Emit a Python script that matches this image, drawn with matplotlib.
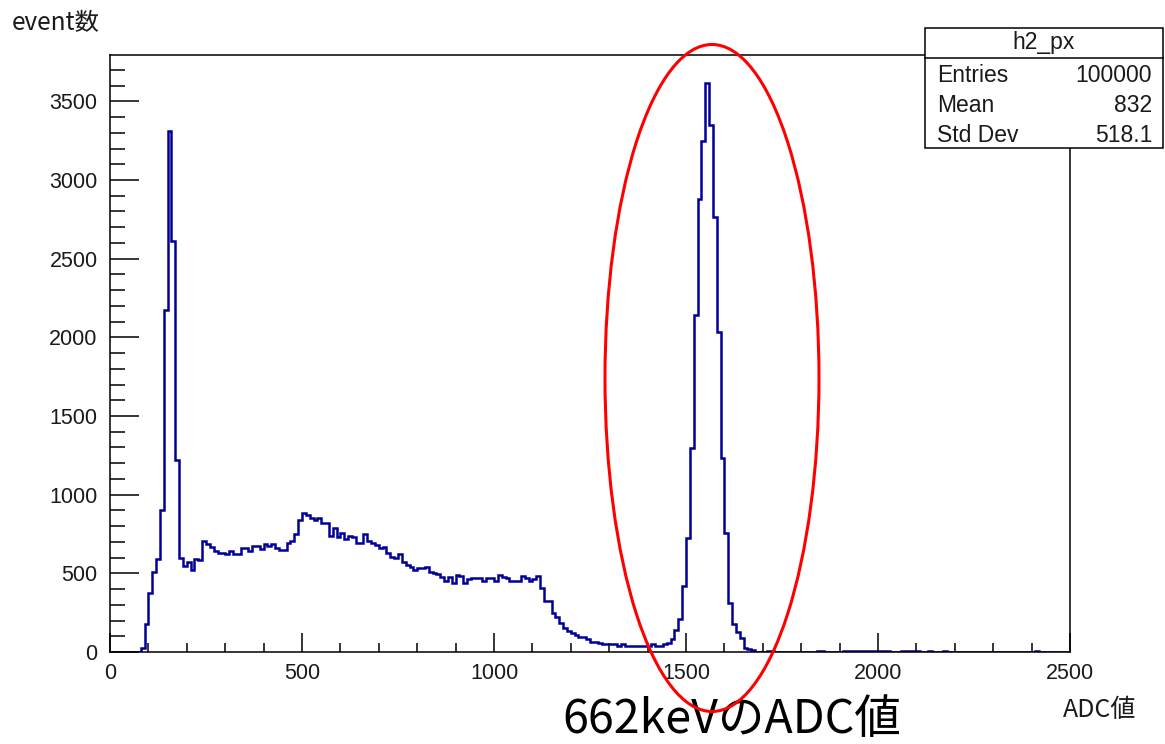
import numpy as np
import matplotlib
matplotlib.use("Agg")
import matplotlib.pyplot as plt
from matplotlib.patches import Ellipse, Rectangle
from matplotlib.lines import Line2D
from matplotlib.ticker import MultipleLocator

# histogram h2_px : 10-wide bins from 0 to 2500
bin_width = 10
x_max = 2500
first_bin = 80
counts_main = [
    25, 177, 377, 507, 594, 900, 2177, 3314, 2613, 1222,      # 80-170
    596, 545, 575, 521, 590, 586, 708, 687, 666, 644,         # 180-270
    632, 632, 621, 644, 623, 623, 660, 660, 640, 674,         # 280-370
    674, 653, 687, 674, 687, 660, 649, 649, 695, 708,         # 380-470
    750, 840, 886, 871, 850, 840, 850, 822, 822, 738,         # 480-570
    787, 729, 759, 717, 738, 729, 696, 696, 751, 708,         # 580-670
    696, 681, 659, 666, 627, 606, 596, 623, 575, 553,         # 680-770
    543, 522, 532, 532, 543, 511, 504, 496, 479, 454,         # 780-870
    479, 441, 490, 485, 441, 462, 469, 469, 469, 454,         # 880-970
    469, 469, 454, 490, 478, 469, 454, 454, 454, 483,         # 980-1070
    469, 454, 462, 483, 405, 326, 326, 250, 224, 182,         # 1080-1170
    151, 136, 118, 105, 98, 93, 80, 66, 66, 55,               # 1180-1270
    51, 51, 51, 51, 38, 51, 38, 38, 38, 38,                   # 1280-1370
    38, 38, 38, 51, 38, 38, 51, 59, 80, 138,                  # 1380-1470
    212, 418, 723, 1295, 2139, 2877, 3249, 3614, 3347, 2762,  # 1480-1570
    2032, 1234, 759, 314, 175, 126, 89, 25, 18, 12,           # 1580-1670
    0, 0, 0, 8, 8,                                            # 1680-1720
]
tail_bins = [1840, 1850, 1910, 1920, 1930, 1940, 1950, 1960, 1970, 1980,
             1990, 2000, 2010, 2020, 2060, 2070, 2080, 2090, 2100, 2130,
             2170, 2410]
tail_counts = [6, 6, 6, 6, 4, 6, 6, 6, 4, 6,
               6, 6, 6, 4, 6, 4, 6, 4, 6, 6,
               6, 6]

stat_names = ["Entries", "Mean", "Std Dev"]
stat_values = ["100000", "832", "518.1"]
hist_name = "h2_px"

edges = np.arange(0, x_max + bin_width, bin_width)
counts = np.zeros(len(edges) - 1)
i0 = first_bin // bin_width
counts[i0:i0 + len(counts_main)] = counts_main
for b, c in zip(tail_bins, tail_counts):
    counts[b // bin_width] = c

fig = plt.figure(figsize=(11.65, 7.44), dpi=100)
ax = fig.add_axes([110 / 1165, 92 / 744, 960 / 1165, 597 / 744])

ax.stairs(counts, edges, color="#000099", lw=1.8, zorder=2)

ax.set_xlim(0, x_max)
ax.set_ylim(0, 1.05 * counts.max())
ax.xaxis.set_major_locator(MultipleLocator(500))
ax.xaxis.set_minor_locator(MultipleLocator(100))
ax.yaxis.set_major_locator(MultipleLocator(500))
ax.yaxis.set_minor_locator(MultipleLocator(100))
ax.set_yticks(np.arange(0, 3501, 500))

ax.tick_params(axis="both", which="both", direction="in", top=False, right=False,
               width=1.1, colors="black", labelcolor="#1a1a1a")
ax.tick_params(axis="y", which="major", length=21, pad=9)
ax.tick_params(axis="y", which="minor", length=10.5)
ax.tick_params(axis="x", which="major", length=13.5, pad=8)
ax.tick_params(axis="x", which="minor", length=6.8)
for lab in ax.get_xticklabels() + ax.get_yticklabels():
    lab.set_fontfamily("Liberation Sans")
    lab.set_fontsize(15.5)
for sp in ax.spines.values():
    sp.set_linewidth(1.1)

# stats box
box_font = {"family": "Liberation Sans", "size": 16.5}
bx0, bx1 = 925 / 1165, 1163 / 1165
by0, by1 = 1 - 148 / 744, 1 - 28 / 744
fig.add_artist(Rectangle((bx0, by0), bx1 - bx0, by1 - by0, transform=fig.transFigure,
                         facecolor="white", edgecolor="black", lw=1.1, zorder=3))
fig.add_artist(Line2D([bx0, bx1], [1 - 58 / 744] * 2, transform=fig.transFigure,
                      color="black", lw=1.1, zorder=3.1))
fig.text((bx0 + bx1) / 2, 1 - 43 / 744, hist_name, ha="center", va="center",
         fontdict=box_font, color="#1a1a1a", zorder=4)
for k, (n, v) in enumerate(zip(stat_names, stat_values)):
    yy = 1 - (75 + 30 * k) / 744
    fig.text(937 / 1165, yy, n, ha="left", va="center", fontdict=box_font,
             color="#1a1a1a", zorder=4)
    fig.text(1152 / 1165, yy, v, ha="right", va="center", fontdict=box_font,
             color="#1a1a1a", zorder=4)

# axis titles
jp = ["Noto Sans CJK JP", "DejaVu Sans"]
fig.text(12 / 1165, 1 - 30 / 744, "event数", ha="left", va="baseline",
         family=jp, fontsize=17.5, color="#1a1a1a")
fig.text(1136 / 1165, 1 - 717 / 744, "ADC値", ha="right", va="baseline",
         family=jp, fontsize=18, color="#1a1a1a")

# red highlight around the photopeak
fig.add_artist(Ellipse((712 / 1165, 1 - 378 / 744), 214 / 1165, 667 / 744,
                       transform=fig.transFigure, fill=False, edgecolor="red",
                       lw=2.2, zorder=5))
fig.text(562 / 1165, 1 - 733 / 744, "662keVのADC値", ha="left", va="baseline",
         family=jp, fontsize=33.5, color="black")

fig.savefig("out.png", dpi=100)
